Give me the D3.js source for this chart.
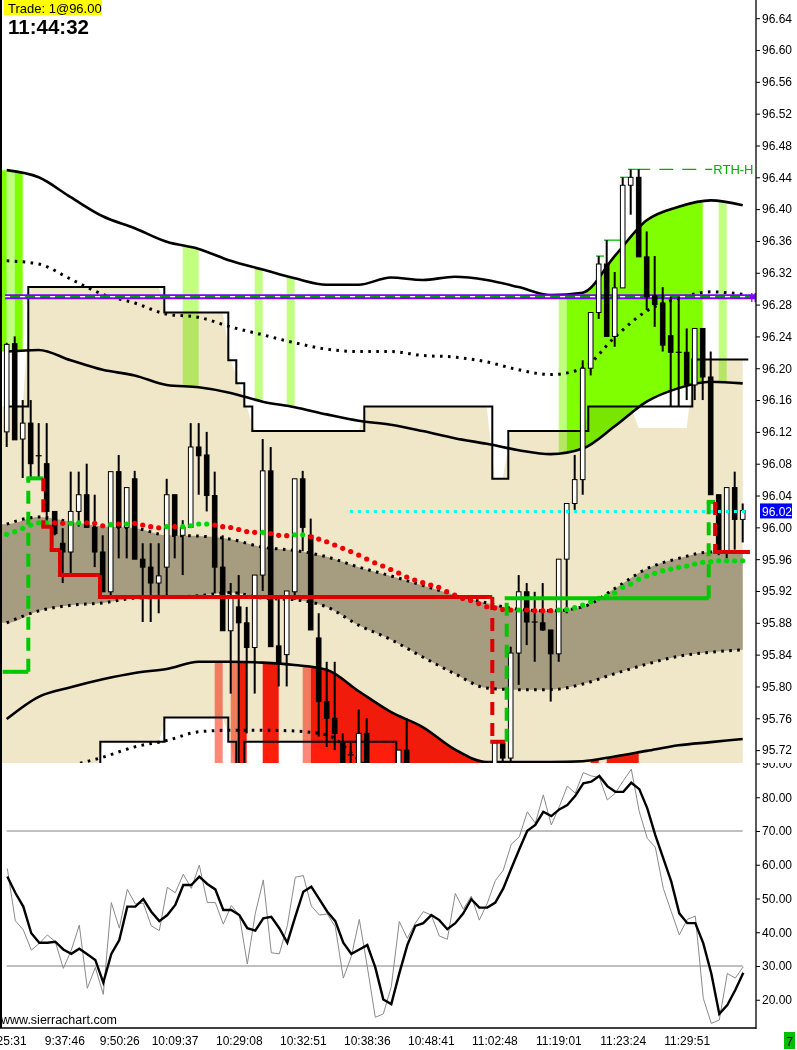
<!DOCTYPE html>
<html>
<head>
<meta charset="utf-8">
<script src="https://cdnjs.cloudflare.com/ajax/libs/d3/7.8.5/d3.min.js"></script>
<style>
  html, body { margin: 0; padding: 0; background: #fff; }
  svg { display: block; font-family: "Liberation Sans", Arial, sans-serif; }
</style>
</head>
<body>
<script>
// DATA

// candles, one entry per bar (bar 0 = first bar on the left)
const opens = [96.120, 96.231, 96.111, 96.131, 96.090, 96.080, 96.020, 95.980, 95.969, 96.020,
  96.041, 96.000, 95.969, 95.919, 96.070, 96.000, 96.061, 95.960, 95.950, 95.930,
  95.950, 96.041, 95.990, 96.000, 96.101, 96.091, 96.040, 95.950, 95.870, 95.900,
  95.880, 95.849, 95.940, 96.071, 95.851, 95.840, 95.919, 96.061, 95.990, 95.861,
  95.781, 95.760, 95.729, 95.714, 95.690, 95.741, 95.690, 95.660, 95.650, 95.680,
  95.720, 95.680, 95.670, 95.680, 95.690, 95.670, 95.660, 95.690, 95.680, 95.690,
  95.680, 95.690, 95.729, 95.710, 95.842, 95.919, 95.881, 95.880, 95.871, 95.841,
  95.960, 96.030, 96.060, 96.200, 96.270, 96.331, 96.240, 96.301, 96.430, 96.440,
  96.340, 96.291, 96.282, 96.241, 96.220, 96.220, 96.179, 96.250, 96.189, 96.041,
  95.969, 96.050, 96.010];
const highs = [96.232, 96.240, 96.160, 96.160, 96.131, 96.131, 96.020, 95.999, 96.070, 96.070,
  96.080, 96.041, 95.990, 96.070, 96.091, 96.050, 96.071, 95.980, 95.980, 95.980,
  96.061, 96.041, 96.009, 96.131, 96.131, 96.120, 96.070, 95.990, 95.930, 95.940,
  95.900, 95.940, 96.111, 96.101, 95.911, 95.920, 96.061, 96.071, 96.011, 95.892,
  95.831, 95.831, 95.741, 95.729, 95.771, 95.760, 95.700, 95.690, 95.690, 95.720,
  95.760, 95.700, 95.690, 95.700, 95.700, 95.690, 95.700, 95.700, 95.700, 95.700,
  95.700, 95.730, 95.730, 95.850, 95.940, 95.930, 95.919, 95.930, 95.871, 95.960,
  96.030, 96.091, 96.210, 96.270, 96.341, 96.361, 96.321, 96.440, 96.450, 96.450,
  96.372, 96.341, 96.302, 96.290, 96.290, 96.250, 96.250, 96.250, 96.221, 96.041,
  96.050, 96.070, 96.030];
const lows = [96.101, 96.110, 96.062, 96.062, 96.062, 96.005, 95.990, 95.930, 95.942, 96.001,
  96.000, 95.950, 95.919, 95.911, 95.961, 95.961, 95.960, 95.881, 95.881, 95.892,
  95.911, 95.961, 95.940, 96.000, 96.041, 96.020, 95.917, 95.870, 95.791, 95.690,
  95.741, 95.791, 95.920, 95.850, 95.800, 95.800, 95.909, 95.970, 95.871, 95.737,
  95.724, 95.720, 95.680, 95.690, 95.680, 95.670, 95.640, 95.630, 95.630, 95.660,
  95.660, 95.650, 95.650, 95.660, 95.660, 95.650, 95.650, 95.670, 95.670, 95.670,
  95.670, 95.680, 95.700, 95.700, 95.802, 95.852, 95.831, 95.870, 95.781, 95.831,
  95.892, 96.022, 96.041, 96.191, 96.262, 96.240, 96.227, 96.301, 96.393, 96.340,
  96.273, 96.252, 96.221, 96.152, 96.152, 96.160, 96.160, 96.160, 96.041, 95.965,
  95.961, 95.972, 95.981];
const closes = [96.230, 96.110, 96.131, 96.080, 96.090, 96.020, 95.992, 95.969, 96.020, 96.041,
  96.000, 95.969, 95.919, 96.070, 96.000, 96.050, 95.960, 95.950, 95.930, 95.939,
  96.041, 95.990, 96.000, 96.101, 96.090, 96.040, 95.950, 95.870, 95.911, 95.880,
  95.849, 95.940, 96.071, 95.850, 95.830, 95.920, 96.061, 96.000, 95.871, 95.781,
  95.760, 95.741, 95.690, 95.714, 95.741, 95.690, 95.660, 95.650, 95.680, 95.720,
  95.680, 95.670, 95.680, 95.690, 95.670, 95.660, 95.690, 95.680, 95.690, 95.680,
  95.690, 95.729, 95.710, 95.842, 95.919, 95.881, 95.880, 95.871, 95.841, 95.960,
  96.030, 96.060, 96.200, 96.270, 96.331, 96.240, 96.301, 96.430, 96.440, 96.340,
  96.290, 96.280, 96.229, 96.220, 96.220, 96.179, 96.250, 96.189, 96.041, 95.969,
  96.050, 96.010, 96.021];

// band study at every fourth bar
const bandSampleBars = [0, 4, 8, 12, 16, 20, 24, 28, 32, 36, 40, 44, 48, 52, 56, 60, 64, 68, 72, 76, 80, 84, 88, 92];
const bandTop = [96.449, 96.440, 96.415, 96.391, 96.376, 96.359, 96.350, 96.335, 96.324, 96.313, 96.305, 96.305,
  96.314, 96.311, 96.315, 96.311, 96.302, 96.292, 96.295, 96.341, 96.386, 96.403, 96.411, 96.405];
const bandUpperDotted = [96.335, 96.331, 96.312, 96.293, 96.282, 96.268, 96.264, 96.252, 96.242, 96.232, 96.224, 96.221,
  96.221, 96.216, 96.214, 96.208, 96.198, 96.192, 96.200, 96.239, 96.272, 96.288, 96.296, 96.293];
const bandUpperInner = [96.221, 96.223, 96.210, 96.198, 96.191, 96.179, 96.176, 96.169, 96.158, 96.151, 96.142, 96.134,
  96.129, 96.121, 96.112, 96.105, 96.097, 96.092, 96.099, 96.127, 96.158, 96.175, 96.183, 96.181];
const bandGrayTop = [96.004, 96.013, 96.007, 96.001, 95.999, 95.990, 95.989, 95.985, 95.975, 95.971, 95.963, 95.950,
  95.939, 95.927, 95.915, 95.905, 95.897, 95.895, 95.900, 95.923, 95.948, 95.961, 95.969, 95.969];
const bandGrayBottom = [95.880, 95.895, 95.902, 95.905, 95.911, 95.912, 95.914, 95.918, 95.911, 95.909, 95.900, 95.877,
  95.859, 95.837, 95.816, 95.798, 95.796, 95.796, 95.803, 95.816, 95.828, 95.838, 95.843, 95.846];
const bandLowerInner = [95.759, 95.787, 95.799, 95.809, 95.817, 95.822, 95.831, 95.831, 95.830, 95.827, 95.821, 95.794,
  95.768, 95.749, 95.721, 95.695, 95.689, 95.695, 95.706, 95.712, 95.719, 95.726, 95.730, 95.734];
const bandLowerDotted = [95.664, 95.685, 95.700, 95.711, 95.724, 95.732, 95.743, 95.745, 95.745, 95.744, 95.739, 95.708,
  95.670, 95.645, 95.632, 95.632, 95.632, 95.632, 95.638, 95.645, 95.651, 95.657, 95.657, 95.657];

// coloured midline, one value per bar, G = rising (green) R = falling (red)
const midline = [95.9912, 95.9945, 95.9988, 96.0029, 96.0058, 96.0058, 96.0058, 96.0050, 96.0050, 96.0058,
  96.0058, 96.0050, 96.0020, 96.0033, 96.0042, 96.0042, 96.0050, 96.0029, 96.0008, 95.9995,
  96.0008, 96.0008, 96.0008, 96.0020, 96.0042, 96.0042, 96.0029, 96.0008, 95.9998, 95.9973,
  95.9947, 95.9937, 95.9937, 95.9922, 95.9900, 95.9895, 95.9907, 95.9907, 95.9882, 95.9853,
  95.9819, 95.9778, 95.9736, 95.9696, 95.9652, 95.9602, 95.9555, 95.9514, 95.9470, 95.9426,
  95.9375, 95.9338, 95.9304, 95.9275, 95.9246, 95.9191, 95.9149, 95.9105, 95.9080, 95.9042,
  95.9002, 95.8986, 95.8967, 95.8961, 95.8961, 95.8961, 95.8952, 95.8952, 95.8952, 95.8961,
  95.8969, 95.8990, 95.9023, 95.9065, 95.9108, 95.9137, 95.9178, 95.9246, 95.9287, 95.9347,
  95.9388, 95.9422, 95.9455, 95.9476, 95.9497, 95.9514, 95.9539, 95.9560, 95.9568, 95.9580,
  95.9580, 95.9580, 95.9580];
const midlineState = "GGGGGGRRGGRRRGRGRRRRGRGGGGRRRRRRGRRRGGRRRRRRRRRRRRRRRRRRRRRRRRRRGRRRRGGGGGGGGGGGGGGGGGGGGGGGG";

// stepped value-area lines: first bar of each run and its level (null = below the pane)
const upperStepStart = [0, 3, 20, 28, 29, 30, 31, 45, 61, 63, 73, 86];
const upperStepLevel = [96.152, 96.302, 96.270, 96.210, 96.181, 96.152, 96.121, 96.152, 96.061, 96.121, 96.152, 96.211];
const lowerStepStart = [0, 12, 20, 28, 29, 30, 49];
const lowerStepLevel = [null, 95.7305, 95.761, 95.7305, null, 95.7305, null];
// bars where the shaded area starts lower than its step line
const tanGapBars = [79, 80, 81, 82, 83, 84, 85];
const tanGapLevel = 96.125;

// background highlight bars
const limeBars = [0, 2, 71, 72, 73, 74, 75, 76, 77, 78, 79, 80, 81, 82, 83, 84, 85, 86, 87];
const paleGreenBars = [1, 23, 24, 32, 36, 70, 90];
const redBars = [30, 33, 34, 39, 40, 41, 42, 43, 44, 45, 46, 47, 48, 49, 50, 51, 52, 53, 54, 55, 56, 57, 58, 59, 60, 74, 76, 77, 78, 79];
const pinkBars = [27, 29, 38];

// trailing stop segments (bar positions), level and side
const stopStart = [-0.5, 2.7, 4.575, 5.625, 6.66, 11.66, 60.7, 62.5, 87.75, 88.55];
const stopEnd = [2.7, 4.575, 5.625, 6.66, 11.66, 60.7, 62.3, 87.75, 88.55, 92.9];
const stopLevel = [95.8184, 96.0616, 96.0008, 95.9715, 95.940, 95.9124, 95.7305, 95.911, 96.032, 95.969];
const stopSide = ["long", "long", "short", "short", "short", "short", "short", "long", "long", "short"];

// reference levels
const ibLevel = 96.29;
const lastPrice = 96.02;
const lastPriceFromBar = 42.9;
const rthHigh = 96.45;
const rthFromBar = 78.7;
const rthToBar = 88.2;
const newHighStart = [73.66, 74.66, 76.66, 77.66];
const newHighEnd = [74.66, 76.66, 77.66, 78.7];
const newHighLevel = [96.341, 96.361, 96.440, 96.450];

// oscillator, one value per bar
const oscRaw = [58.9, 43.4, 40.7, 34.7, 36.7, 39.2, 37.2, 29.3, 34.7, 42.1,
  23.4, 29.6, 21.6, 48.8, 41.2, 52.7, 48.4, 48.6, 41.9, 40.5,
  53.3, 51.7, 57.2, 53.0, 59.9, 48.8, 48.8, 42.4, 47.9, 45.1,
  30.6, 45.6, 55.5, 33.9, 33.6, 41.9, 56.3, 56.8, 47.8, 45.1,
  45.4, 41.6, 26.4, 32.8, 43.8, 29.8, 14.8, 15.8, 23.9, 43.2,
  38.2, 42.7, 46.1, 45.1, 38.9, 37.9, 51.5, 46.8, 50.7, 43.6,
  48.6, 55.3, 58.4, 66.1, 68.3, 75.7, 72.3, 80.7, 71.8, 77.2,
  83.3, 81.2, 87.3, 86.3, 85.9, 79.2, 81.2, 84.9, 88.3, 75.7,
  67.8, 65.2, 53.0, 46.1, 39.2, 43.8, 44.8, 20.4, 13.0, 14.0,
  27.8, 26.4, 29.8];
const oscSmooth = [56.5, 51.7, 47.6, 39.7, 36.9, 36.9, 37.2, 34.9, 33.6, 35.1,
  33.5, 31.8, 25.1, 33.6, 37.7, 47.6, 47.6, 49.8, 46.1, 43.3,
  45.1, 48.1, 54.0, 54.0, 56.5, 54.3, 52.7, 46.6, 46.6, 45.1,
  41.2, 40.5, 44.1, 44.6, 41.2, 36.9, 44.6, 52.0, 53.5, 49.8,
  46.1, 43.3, 36.9, 33.6, 34.9, 36.2, 29.6, 20.1, 18.7, 27.8,
  36.2, 41.9, 42.7, 45.1, 43.6, 40.9, 42.7, 45.6, 49.8, 47.3,
  47.3, 48.8, 53.0, 58.9, 64.6, 70.1, 71.8, 75.7, 74.4, 76.4,
  77.7, 80.4, 84.1, 84.6, 86.3, 83.3, 81.6, 81.6, 84.3, 82.4,
  76.7, 68.8, 61.9, 55.0, 45.6, 42.7, 42.7, 36.7, 27.8, 15.8,
  18.4, 22.9, 28.0];
const oscLevels = [70, 30];

// axes
const priceTicks = [96.64, 96.60, 96.56, 96.52, 96.48, 96.44, 96.40, 96.36, 96.32, 96.28, 96.24, 96.20,
  96.16, 96.12, 96.08, 96.04, 96.00, 95.96, 95.92, 95.88, 95.84, 95.80, 95.76, 95.72];
const oscTicks = [90, 80, 70, 60, 50, 40, 30, 20];
const timeLabels = ["9:25:31", "9:37:46", "9:50:26", "10:09:37", "10:29:08", "10:32:51", "10:38:36",
  "10:48:41", "11:02:48", "11:19:01", "11:23:24", "11:29:51"];
const timeLabelBars = [-2.52, 4.76, 11.63, 18.12, 26.16, 34.16, 42.16, 50.16, 58.16, 66.16, 74.2, 82.2];


// SETUP

const width = 797, height = 1050;
const paneLeft = 2, axisX = 756, priceBottom = 763, oscBottom = 1028;
const barCount = opens.length;

const svg = d3.select("body")
  .append("svg")
  .attr("width", width)
  .attr("height", height);

const defs = svg.append("defs");

// scales: bar index -> x, price -> y, oscillator value -> y
const x = d3.scaleLinear().domain([0, 92]).range([6.7, 742.7]);
const y = d3.scaleLinear().domain([95.72, 96.64]).range([750.1, 18.2]);
const yOsc = d3.scaleLinear().domain([20, 90]).range([999.75, 763.5]);

function addClip(id, cx, cy, cw, ch) {
  defs.append("clipPath").attr("id", id)
    .append("rect").attr("x", cx).attr("y", cy).attr("width", cw).attr("height", ch);
  return `url(#${id})`;
}

const clipPrice = addClip("clip-price", paneLeft, 0, axisX - paneLeft, priceBottom);
const clipOsc = addClip("clip-osc", paneLeft, priceBottom, axisX - paneLeft, oscBottom - priceBottom);
const clipOscAxis = addClip("clip-osc-axis", axisX, priceBottom, width - axisX, oscBottom - priceBottom + 2);
const clipAxisEdge = addClip("clip-axis-edge", 0, 0, axisX, height);

// expand runs (start bar + level) into one value per bar
function expandRuns(starts, levels) {
  return d3.range(barCount).map(i => levels[d3.bisectRight(starts, i) - 1]);
}
const upperStep = expandRuns(upperStepStart, upperStepLevel);
const lowerStep = expandRuns(lowerStepStart, lowerStepLevel);

// band samples, with a copy of the first one at bar -1 so fills reach the left edge
const samples = bandSampleBars.map((b, i) => ({
  bar: b, top: bandTop[i], upDot: bandUpperDotted[i], upIn: bandUpperInner[i],
  grayTop: bandGrayTop[i], grayBottom: bandGrayBottom[i], lowIn: bandLowerInner[i], lowDot: bandLowerDotted[i]
}));
const samplesExt = [Object.assign({}, samples[0], { bar: -1 }), ...samples];
const belowPane = priceBottom + 30;
const lowInY = d => Math.min(y(d.lowIn), priceBottom - 1);


// SHADED AREAS

// tan area between the stepped lines, filled bar to bar
const tanBars = d3.range(-1, barCount).map(i => {
  const j = Math.max(i, 0);
  const top = tanGapBars.includes(j) ? tanGapLevel : upperStep[j];
  return { bar: i, top: top, bottom: lowerStep[j] };
});
svg.append("path")
  .datum(tanBars)
  .attr("clip-path", clipPrice)
  .attr("fill", "#F0E6C8")
  .attr("d", d3.area()
    .x(d => x(d.bar))
    .y0(d => d.bottom === null ? belowPane : y(d.bottom))
    .y1(d => y(d.top)));

// gray inner band
svg.append("path")
  .datum(samplesExt)
  .attr("clip-path", clipPrice)
  .attr("fill", "#A69C80")
  .attr("d", d3.area().curve(d3.curveMonotoneX)
    .x(d => x(d.bar))
    .y0(d => y(d.grayBottom))
    .y1(d => y(d.grayTop)));

// highlight bars: each spans from the previous bar centre to its own centre
function toRuns(bars) {
  const runs = [];
  bars.forEach(b => {
    const last = runs[runs.length - 1];
    if (last && b === last[1] + 1) last[1] = b;
    else runs.push([b, b]);
  });
  return runs;
}

const upperZone = d3.area().curve(d3.curveMonotoneX)
  .x(d => x(d.bar)).y0(d => y(d.upIn)).y1(d => y(d.top));
const lowerZone = d3.area().curve(d3.curveMonotoneX)
  .x(d => x(d.bar)).y0(priceBottom).y1(d => lowInY(d));

function drawHighlights(bars, color, zone, id) {
  toRuns(bars).forEach((r, k) => {
    const x0 = Math.max(paneLeft, x(r[0] - 1));
    const clip = addClip(`${id}-${k}`, x0, 0, x(r[1]) - x0, priceBottom);
    svg.append("path")
      .datum(samplesExt)
      .attr("clip-path", clip)
      .attr("fill", color)
      .style("mix-blend-mode", "multiply")
      .attr("d", zone);
  });
}
drawHighlights(paleGreenBars, "#C0FF80", upperZone, "pale");
drawHighlights(limeBars, "#80FF00", upperZone, "lime");
drawHighlights(pinkBars, "#FF8878", lowerZone, "pink");
drawHighlights(redBars, "#FF1E0C", lowerZone, "red");


// LINES

const lines = svg.append("g").attr("clip-path", clipPrice);

// stepped lines: a run of bars is drawn from 2.4px left of its first bar to 5.6px right of its last
function stepPath(values) {
  const yv = v => v === null ? belowPane : y(v);
  let d = `M${x(0) - 2.4},${yv(values[0])}`;
  values.forEach((v, i) => {
    if (i > 0 && v !== values[i - 1]) d += `V${yv(v)}`;
    d += `H${x(i) + 5.6}`;
  });
  return d;
}
lines.append("path").attr("d", stepPath(upperStep))
  .attr("fill", "none").attr("stroke", "#000").attr("stroke-width", 2);
lines.append("path").attr("d", stepPath(lowerStep))
  .attr("fill", "none").attr("stroke", "#000").attr("stroke-width", 2);

// band curves
const curve = key => d3.line().curve(d3.curveMonotoneX)
  .x(d => x(d.bar)).y(d => key === "lowIn" ? lowInY(d) : y(d[key]));

["top", "upIn", "lowIn"].forEach(key => {
  lines.append("path").datum(samples).attr("d", curve(key))
    .attr("fill", "none").attr("stroke", "#000").attr("stroke-width", 2.6);
});
["upDot", "grayTop", "grayBottom", "lowDot"].forEach(key => {
  lines.append("path").datum(samples).attr("d", curve(key))
    .attr("fill", "none").attr("stroke", "#000").attr("stroke-width", 3)
    .attr("stroke-dasharray", "2.6,5.4");
});

// opening range line
lines.append("line")
  .attr("x1", x(-0.2)).attr("x2", axisX).attr("y1", y(ibLevel)).attr("y2", y(ibLevel))
  .attr("stroke", "#8000FF").attr("stroke-width", 5);
lines.append("line")
  .attr("x1", x(-0.2)).attr("x2", axisX - 6).attr("y1", y(ibLevel)).attr("y2", y(ibLevel))
  .attr("stroke", "#00A000").attr("stroke-width", 1.2);
lines.append("line")
  .attr("x1", x(-0.2)).attr("x2", axisX - 6).attr("y1", y(ibLevel)).attr("y2", y(ibLevel))
  .attr("stroke", "#fff").attr("stroke-width", 1.2).attr("stroke-dasharray", "5,10");

// session high markers
newHighLevel.forEach((lvl, i) => {
  lines.append("line")
    .attr("x1", x(newHighStart[i])).attr("x2", x(newHighEnd[i]))
    .attr("y1", y(lvl)).attr("y2", y(lvl))
    .attr("stroke", "#00C000").attr("stroke-width", 1.3);
});
lines.append("line")
  .attr("x1", x(rthFromBar)).attr("x2", x(rthToBar)).attr("y1", y(rthHigh)).attr("y2", y(rthHigh))
  .attr("stroke", "#00B000").attr("stroke-width", 1.2).attr("stroke-dasharray", "14,9");


// CANDLES

const candles = svg.append("g").attr("clip-path", clipPrice);
const candleData = d3.range(barCount).map(i => ({ i: i, o: opens[i], h: highs[i], l: lows[i], c: closes[i] }));

candles.selectAll("line.wick")
  .data(candleData)
  .enter()
  .append("line")
  .attr("class", "wick")
  .attr("x1", d => x(d.i)).attr("x2", d => x(d.i))
  .attr("y1", d => y(d.h)).attr("y2", d => y(d.l))
  .attr("stroke", "#000").attr("stroke-width", 2);

candles.selectAll("rect.body")
  .data(candleData.filter(d => Math.abs(d.o - d.c) >= 0.0015))
  .enter()
  .append("rect")
  .attr("class", "body")
  .attr("x", d => x(d.i) - 2.3)
  .attr("width", 4.6)
  .attr("y", d => y(Math.max(d.o, d.c)))
  .attr("height", d => Math.max(1, Math.abs(y(d.o) - y(d.c))))
  .attr("fill", d => d.c > d.o ? "#fff" : "#000")
  .attr("stroke", "#000").attr("stroke-width", 1);

candles.selectAll("line.doji")
  .data(candleData.filter(d => Math.abs(d.o - d.c) < 0.0015))
  .enter()
  .append("line")
  .attr("class", "doji")
  .attr("x1", d => x(d.i) - 3).attr("x2", d => x(d.i) + 3)
  .attr("y1", d => y(d.o)).attr("y2", d => y(d.o))
  .attr("stroke", "#000").attr("stroke-width", 1.2);


// OVERLAYS ON TOP OF THE CANDLES

const overlay = svg.append("g").attr("clip-path", clipPrice);

// last price level
overlay.append("line")
  .attr("x1", x(lastPriceFromBar)).attr("x2", axisX - 10)
  .attr("y1", y(lastPrice)).attr("y2", y(lastPrice))
  .attr("stroke", "#00FFFF").attr("stroke-width", 3).attr("stroke-dasharray", "3,5");

// coloured midline dots
overlay.selectAll("circle.mid")
  .data(midline)
  .enter()
  .append("circle")
  .attr("class", "mid")
  .attr("cx", (d, i) => x(i))
  .attr("cy", d => y(d))
  .attr("r", 2.6)
  .attr("fill", (d, i) => midlineState[i] === "G" ? "#00D800" : "#F00000");

// trailing stop: solid levels, dashed connectors on large jumps
const stopColor = side => side === "long" ? "#00C800" : "#DD0000";
stopLevel.forEach((lvl, i) => {
  if (i > 0) {
    const jump = Math.abs(lvl - stopLevel[i - 1]);
    overlay.append("line")
      .attr("x1", x(stopStart[i])).attr("x2", x(stopStart[i]))
      .attr("y1", y(stopLevel[i - 1])).attr("y2", y(lvl))
      .attr("stroke", stopColor(stopSide[i])).attr("stroke-width", 4)
      .attr("stroke-dasharray", jump > 0.05 ? "13,8" : null);
  }
  overlay.append("line")
    .attr("x1", x(stopStart[i]) - (i > 0 ? 2 : 0)).attr("x2", x(stopEnd[i]))
    .attr("y1", y(lvl)).attr("y2", y(lvl))
    .attr("stroke", stopColor(stopSide[i])).attr("stroke-width", 4);
});

// level labels inside the pane
svg.append("text")
  .attr("x", x(rthToBar) + 1).attr("y", y(rthHigh) + 5)
  .attr("fill", "#00B000").style("font-size", "13px")
  .text("RTH-H");
svg.append("text")
  .attr("clip-path", clipAxisEdge)
  .attr("x", axisX - 6).attr("y", y(ibLevel) + 5)
  .attr("fill", "#8000FF").style("font-size", "13px")
  .text("IB");


// OSCILLATOR

const osc = svg.append("g").attr("clip-path", clipOsc);

osc.selectAll("line.level")
  .data(oscLevels)
  .enter()
  .append("line")
  .attr("x1", x(0)).attr("x2", x(92))
  .attr("y1", d => yOsc(d)).attr("y2", d => yOsc(d))
  .attr("stroke", "#808080").attr("stroke-width", 1);

const oscLine = d3.line().x((d, i) => x(i) + 0.6).y(d => yOsc(d));
osc.append("path").datum(oscRaw).attr("d", oscLine)
  .attr("fill", "none").attr("stroke", "#8a8a8a").attr("stroke-width", 1);
osc.append("path").datum(oscSmooth).attr("d", oscLine)
  .attr("fill", "none").attr("stroke", "#000").attr("stroke-width", 2.4);

svg.append("text")
  .attr("x", 1).attr("y", oscBottom - 4)
  .style("font-size", "12.5px")
  .text("www.sierrachart.com");


// AXES AND FRAME

const priceAxis = svg.append("g")
  .attr("transform", `translate(${axisX},0)`)
  .call(d3.axisRight(y).tickValues(priceTicks).tickSize(4).tickPadding(2).tickFormat(d3.format(".2f")));

const oscAxis = svg.append("g")
  .attr("clip-path", clipOscAxis)
  .append("g")
  .attr("transform", `translate(${axisX},0)`)
  .call(d3.axisRight(yOsc).tickValues(oscTicks).tickSize(4).tickPadding(2).tickFormat(d3.format(".2f")));

[priceAxis, oscAxis].forEach(a => {
  a.select(".domain").remove();
  a.selectAll("text").style("font-size", "12px").attr("fill", "#000")
    .style("font-family", "'Liberation Sans', Arial, sans-serif");
  a.selectAll("line").attr("stroke", "#000");
});

// last price box on the scale
svg.append("rect")
  .attr("x", axisX + 4).attr("y", y(lastPrice) - 8)
  .attr("width", 32).attr("height", 15)
  .attr("fill", "#0000FF");
svg.append("text")
  .attr("x", axisX + 6).attr("y", y(lastPrice) + 4.3)
  .attr("fill", "#fff").style("font-size", "12px")
  .text(d3.format(".2f")(lastPrice));

// frame lines
svg.append("line").attr("x1", 1).attr("x2", 1).attr("y1", 0).attr("y2", oscBottom)
  .attr("stroke", "#000").attr("stroke-width", 2);
svg.append("line").attr("x1", axisX).attr("x2", axisX).attr("y1", 0).attr("y2", oscBottom + 1)
  .attr("stroke", "#000").attr("stroke-width", 1.3);
svg.append("line").attr("x1", 0).attr("x2", axisX).attr("y1", oscBottom).attr("y2", oscBottom)
  .attr("stroke", "#000").attr("stroke-width", 1.3);

// time labels under the oscillator
svg.selectAll("text.time")
  .data(timeLabels)
  .enter()
  .append("text")
  .attr("class", "time")
  .attr("x", (d, i) => x(timeLabelBars[i]))
  .attr("y", oscBottom + 17)
  .style("font-size", "12px")
  .text(d => d);

// green counter box in the corner
svg.append("rect")
  .attr("x", 784).attr("y", 1032).attr("width", 11).attr("height", 17)
  .attr("fill", "#00C000");
svg.append("text")
  .attr("x", 789.5).attr("y", 1046).attr("text-anchor", "middle")
  .style("font-size", "13px")
  .text("7");

// header: last trade and clock
svg.append("rect")
  .attr("x", 4).attr("y", 0).attr("width", 98).attr("height", 15)
  .attr("fill", "#FFFF00");
svg.append("text")
  .attr("x", 8).attr("y", 12.5)
  .style("font-size", "13px")
  .text("Trade: 1@96.00");
svg.append("text")
  .attr("x", 8).attr("y", 34)
  .style("font-size", "20.5px").style("font-weight", "bold")
  .text("11:44:32");
</script>
</body>
</html>
